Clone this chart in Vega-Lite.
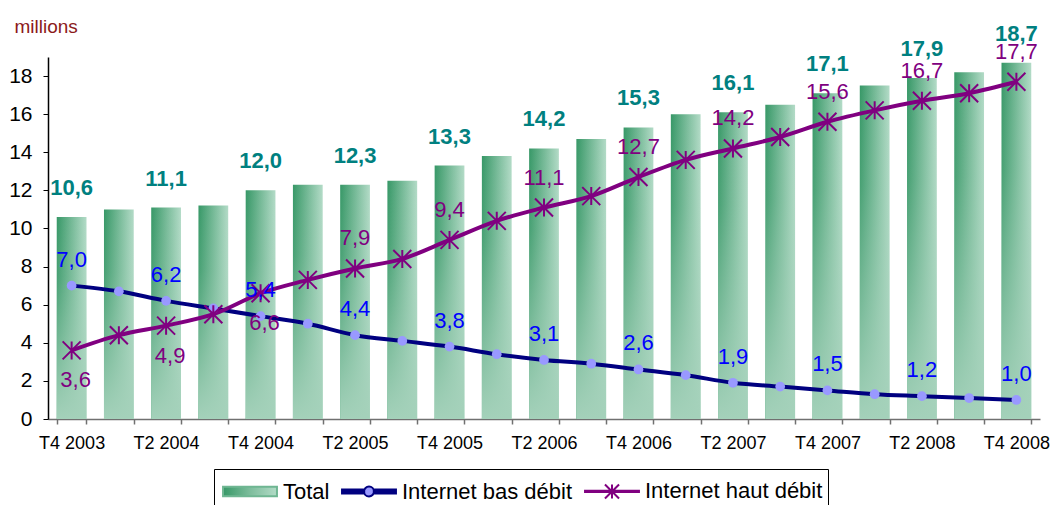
{
  "$schema": "https://vega.github.io/schema/vega-lite/v6.json",
  "width": 992,
  "height": 362,
  "autosize": {"type": "none"},
  "padding": {"left": 48, "top": 57, "right": 13, "bottom": 86},
  "config": {
    "view": {"stroke": null},
    "font": "Liberation Sans",
    "locale": {"number": {"decimal": ",", "thousands": " ", "grouping": [3], "currency": ["", " €"]}},
    "axisY": {
      "grid": false,
      "titleAngle": 0,
      "titleX": -34,
      "titleY": -25,
      "titleAlign": "left",
      "titleBaseline": "alphabetic",
      "titleColor": "#8B1A1A",
      "titleFont": "Liberation Sans",
      "titleFontSize": 19,
      "titleFontWeight": "normal",
      "labelFont": "Liberation Sans",
      "labelFontSize": 21,
      "labelColor": "#000000",
      "labelPadding": 11,
      "tickSize": 5,
      "tickColor": "#000000",
      "domainColor": "#000000",
      "domainWidth": 1.5
    }
  },
  "data": {
    "values": [
      {"q": "T4 2003", "total": 10.6, "bas": 7.0, "haut": 3.6},
      {"q": "T1 2004", "total": 11.0, "bas": 6.7, "haut": 4.4},
      {"q": "T2 2004", "total": 11.1, "bas": 6.2, "haut": 4.9},
      {"q": "T3 2004", "total": 11.2, "bas": 5.8, "haut": 5.5},
      {"q": "T4 2004", "total": 12.0, "bas": 5.4, "haut": 6.6},
      {"q": "T1 2005", "total": 12.3, "bas": 5.0, "haut": 7.3},
      {"q": "T2 2005", "total": 12.3, "bas": 4.4, "haut": 7.9},
      {"q": "T3 2005", "total": 12.5, "bas": 4.1, "haut": 8.4},
      {"q": "T4 2005", "total": 13.3, "bas": 3.8, "haut": 9.4},
      {"q": "T1 2006", "total": 13.8, "bas": 3.4, "haut": 10.4},
      {"q": "T2 2006", "total": 14.2, "bas": 3.1, "haut": 11.1},
      {"q": "T3 2006", "total": 14.7, "bas": 2.9, "haut": 11.7},
      {"q": "T4 2006", "total": 15.3, "bas": 2.6, "haut": 12.7},
      {"q": "T1 2007", "total": 16.0, "bas": 2.3, "haut": 13.6},
      {"q": "T2 2007", "total": 16.1, "bas": 1.9, "haut": 14.2},
      {"q": "T3 2007", "total": 16.5, "bas": 1.7, "haut": 14.8},
      {"q": "T4 2007", "total": 17.1, "bas": 1.5, "haut": 15.6},
      {"q": "T1 2008", "total": 17.5, "bas": 1.3, "haut": 16.2},
      {"q": "T2 2008", "total": 17.9, "bas": 1.2, "haut": 16.7},
      {"q": "T3 2008", "total": 18.2, "bas": 1.1, "haut": 17.1},
      {"q": "T4 2008", "total": 18.7, "bas": 1.0, "haut": 17.7}
    ]
  },
  "encoding": {
    "x": {
      "field": "q",
      "type": "ordinal",
      "sort": null,
      "scale": {"paddingInner": 0.37, "paddingOuter": 0.185},
      "axis": {
        "title": null,
        "labelAngle": 0,
        "labelFont": "Liberation Sans",
        "labelFontSize": 18,
        "labelColor": "#000000",
        "labelPadding": 10,
        "labelOverlap": false,
        "labelExpr": "(substring(datum.label,0,2) == 'T4' || substring(datum.label,0,2) == 'T2') ? datum.label : ''",
        "tickBand": "extent",
        "tickSize": 5,
        "tickColor": "#707070",
        "tickWidth": 1.5,
        "domainColor": "#707070",
        "domainWidth": 1.5
      }
    }
  },
  "layer": [
    {
      "mark": {
        "type": "bar",
        "color": {
          "gradient": "linear", "x1": 0, "y1": 0, "x2": 1, "y2": 0,
          "stops": [
            {"offset": 0, "color": "#379867"},
            {"offset": 0.45, "color": "#6fb692"},
            {"offset": 1, "color": "#b3dbc7"}
          ]
        }
      },
      "encoding": {
        "y": {
          "field": "total",
          "type": "quantitative",
          "scale": {"domain": [0, 19], "nice": false},
          "axis": {"title": "millions", "values": [0, 2, 4, 6, 8, 10, 12, 14, 16, 18], "format": "d"}
        }
      }
    },
    {
      "mark": {
        "type": "bar",
        "color": {
          "gradient": "linear", "x1": 0, "y1": 0, "x2": 0, "y2": 1,
          "stops": [
            {"offset": 0, "color": "rgba(164,209,186,0)"},
            {"offset": 0.3, "color": "rgba(164,209,186,0.15)"},
            {"offset": 1, "color": "rgba(164,209,186,1)"}
          ]
        }
      },
      "encoding": {"y": {"field": "total", "type": "quantitative"}}
    },
    {
      "mark": {"type": "line", "color": "#000080", "strokeWidth": 4, "interpolate": "monotone"},
      "encoding": {"y": {"field": "bas", "type": "quantitative"}}
    },
    {
      "mark": {"type": "line", "color": "#800080", "strokeWidth": 4, "interpolate": "monotone"},
      "encoding": {"y": {"field": "haut", "type": "quantitative"}}
    },
    {
      "mark": {"type": "point", "filled": true, "color": "#9999FF", "size": 95, "opacity": 1},
      "encoding": {"y": {"field": "bas", "type": "quantitative"}}
    },
    {
      "mark": {"type": "point", "shape": "M0,-1V1M-1,-1L1,1M-1,1L1,-1", "filled": false, "color": "#800080", "strokeWidth": 2, "size": 324, "opacity": 1},
      "encoding": {"y": {"field": "haut", "type": "quantitative"}}
    },
    {
      "transform": [{"filter": "substring(datum.q,0,2) == 'T4' || substring(datum.q,0,2) == 'T2'"}],
      "mark": {"type": "text", "font": "Liberation Sans", "fontSize": 22, "fontWeight": "bold", "color": "#008080", "baseline": "middle", "dy": -29},
      "encoding": {
        "y": {"field": "total", "type": "quantitative"},
        "text": {"field": "total", "type": "quantitative", "format": ".1f"}
      }
    },
    {
      "transform": [{"filter": "substring(datum.q,0,2) == 'T4' || substring(datum.q,0,2) == 'T2'"}],
      "mark": {"type": "text", "font": "Liberation Sans", "fontSize": 22, "color": "#0000FF", "baseline": "middle", "dy": -26},
      "encoding": {
        "y": {"field": "bas", "type": "quantitative"},
        "text": {"field": "bas", "type": "quantitative", "format": ".1f"}
      }
    },
    {
      "transform": [{"filter": "(substring(datum.q,0,2) == 'T4' || substring(datum.q,0,2) == 'T2') && datum.haut >= 7"}],
      "mark": {"type": "text", "font": "Liberation Sans", "fontSize": 22, "color": "#800080", "baseline": "middle", "dy": -30},
      "encoding": {
        "y": {"field": "haut", "type": "quantitative"},
        "text": {"field": "haut", "type": "quantitative", "format": ".1f"}
      }
    },
    {
      "transform": [{"filter": "(substring(datum.q,0,2) == 'T4' || substring(datum.q,0,2) == 'T2') && datum.haut < 7"}],
      "mark": {"type": "text", "font": "Liberation Sans", "fontSize": 22, "color": "#800080", "baseline": "middle", "dy": 30, "dx": 4},
      "encoding": {
        "y": {"field": "haut", "type": "quantitative"},
        "text": {"field": "haut", "type": "quantitative", "format": ".1f"}
      }
    },
    {
      "transform": [{"fold": ["total", "bas", "haut"], "as": ["series", "v"]}],
      "mark": {"type": "point", "opacity": 0},
      "encoding": {
        "y": {"field": "v", "type": "quantitative"},
        "color": {
          "field": "series",
          "type": "nominal",
          "scale": {"domain": ["total", "bas", "haut"], "range": ["#6fb692", "#000080", "#800080"]},
          "legend": {
            "orient": "none",
            "legendX": 166,
            "legendY": 412,
            "direction": "horizontal",
            "title": null,
            "symbolSize": 1024,
            "symbolStrokeWidth": 2,
            "symbolOpacity": 1,
            "labelFont": "Liberation Sans",
            "labelFontSize": 22,
            "labelColor": "#000000",
            "labelLimit": 400,
            "labelOffset": 30,
            "columnPadding": 8,
            "padding": 5,
            "strokeColor": "#000000",
            "fillColor": "#FFFFFF",
            "labelExpr": "datum.value == 'total' ? 'Total' : (datum.value == 'bas' ? 'Internet bas débit' : 'Internet haut débit')",
            "encoding": {
              "symbols": {
                "fill": {
                  "condition": [
                    {"test": "datum.value == 'total'", "value": {"gradient": "linear", "x1": 0, "y1": 0, "x2": 1, "y2": 0, "stops": [{"offset": 0, "color": "#379867"}, {"offset": 0.5, "color": "#7dbd9c"}, {"offset": 1, "color": "#b3dbc7"}]}},
                    {"test": "datum.value == 'bas'", "value": {"gradient": "linear", "x1": 0, "y1": 0, "x2": 1, "y2": 0, "stops": [{"offset": 0, "color": "#000080"}, {"offset": 0.405, "color": "#000080"}, {"offset": 0.405, "color": "#9999FF"}, {"offset": 0.595, "color": "#9999FF"}, {"offset": 0.595, "color": "#000080"}, {"offset": 1, "color": "#000080"}]}}
                  ],
                  "value": "#800080"
                },
                "stroke": {
                  "condition": {"test": "datum.value == 'haut'", "value": "#800080"},
                  "value": "transparent"
                },
                "strokeWidth": {"value": 2},
                "opacity": {"value": 1},
                "fillOpacity": {"value": 1},
                "strokeOpacity": {"value": 1}
              }
            }
          }
        },
        "shape": {
          "field": "series",
          "type": "nominal",
          "scale": {
            "domain": ["total", "bas", "haut"],
            "range": [
              "M-0.81,-0.3H2.56V0.3H-0.81Z",
              "M-0.81,-0.125H0.575V0.125H-0.81Z M1.175,-0.125H2.56V0.125H1.175Z M1.185,0A0.31,0.31 0 1 1 0.565,0A0.31,0.31 0 1 1 1.185,0Z",
              "M-0.81,-0.04H2.56V0.04H-0.81Z M0.875,-0.44V0.44M0.435,-0.44L1.315,0.44M0.435,0.44L1.315,-0.44"
            ]
          }
        }
      }
    }
  ]
}
